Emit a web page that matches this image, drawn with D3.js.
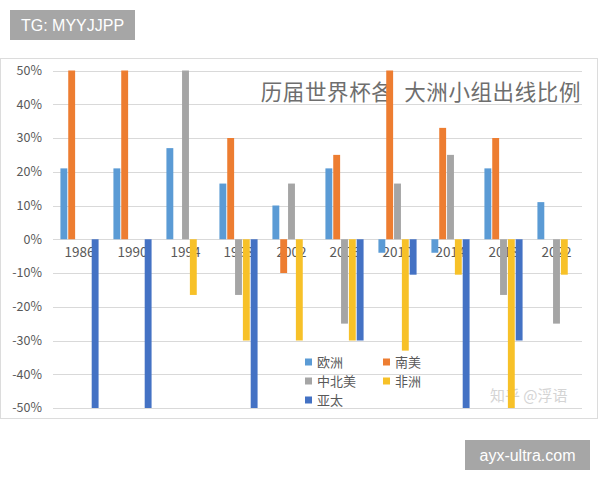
<!DOCTYPE html>
<html>
<head>
<meta charset="utf-8">
<script src="https://cdn.jsdelivr.net/npm/d3@7"></script>
<style>
  body { margin: 0; background: #fff; }
  text { font-family: "Noto Sans CJK SC", "Liberation Sans", sans-serif; }
  text.tag { font-family: "Liberation Sans", Arial, sans-serif; }
</style>
</head>
<body>
<div id="chart"></div>
<script>
// years (categories)
var years = ["1986", "1990", "1994", "1998", "2002", "2006", "2010", "2014", "2018", "2022"];

// series values, in %
var europe       = [21, 21, 27, 16.5, 10, 21, -4, -4, 21, 11];
var southAmerica = [50, 50, 0, 30, -10, 25, 50, 33, 30, 0];
var ncAmerica    = [0, 0, 50, -16.5, 16.5, -25, 16.5, 25, -16.5, -25];
var africa       = [0, 0, -16.5, -30, -30, -30, -33, -10.5, -50, -10.5];
var asia         = [-50, -50, 0, -50, 0, -30, -10.5, -50, -30, 0];

var seriesNames = ["欧洲", "南美", "中北美", "非洲", "亚太"];
var seriesValues = [europe, southAmerica, ncAmerica, africa, asia];
var seriesColors = ["#5B9BD5", "#ED7D31", "#A5A5A5", "#F7C128", "#4472C4"];

var yTicks = [50, 40, 30, 20, 10, 0, -10, -20, -30, -40, -50];

var W = 600, H = 480;

var svg = d3.select("#chart").append("svg")
    .attr("width", W)
    .attr("height", H);

// chart frame
svg.append("rect")
    .attr("x", 0.5).attr("y", 58.5)
    .attr("width", 597).attr("height", 360)
    .attr("fill", "#fff")
    .attr("stroke", "#dcdcdc");

var x0 = d3.scaleBand()
    .domain(years)
    .range([53, 583])
    .paddingInner(0.28)
    .paddingOuter(0.14);

var x1 = d3.scaleBand()
    .domain(seriesNames)
    .range([0, x0.bandwidth()])
    .paddingInner(0.12);

var y = d3.scaleLinear()
    .domain([-50, 50])
    .range([408, 70.5]);

// gridlines
svg.append("g")
    .selectAll("line")
    .data(yTicks)
    .enter()
    .append("line")
    .attr("x1", 53).attr("x2", 582)
    .attr("y1", d => Math.round(y(d)) + 0.5)
    .attr("y2", d => Math.round(y(d)) + 0.5)
    .attr("stroke", "#d9d9d9");

// y axis labels
svg.append("g")
    .selectAll("text")
    .data(yTicks)
    .enter()
    .append("text")
    .attr("x", 42)
    .attr("y", d => y(d))
    .attr("dy", "0.35em")
    .attr("text-anchor", "end")
    .attr("font-size", 12.5)
    .attr("fill", "#595959")
    .text(d => d + "%");

// category labels sit just under the zero line, bars paint over them
svg.append("g")
    .selectAll("text")
    .data(years)
    .enter()
    .append("text")
    .attr("x", d => x0(d) + x0.bandwidth() / 2)
    .attr("y", y(0) + 18)
    .attr("text-anchor", "middle")
    .attr("font-size", 13.5)
    .attr("fill", "#595959")
    .text(d => d);

// title
svg.append("text")
    .attr("x", 581)
    .attr("y", 100)
    .attr("text-anchor", "end")
    .attr("font-size", 21.5)
    .attr("letter-spacing", 0.6)
    .attr("fill", "#6e6e6e")
    .attr("xml:space", "preserve")
    .text("历届世界杯各  大洲小组出线比例");

// watermark
svg.append("text")
    .attr("x", 490)
    .attr("y", 401)
    .attr("font-size", 15)
    .attr("fill", "#d4d4d4")
    .text("知乎 @浮语");

// bars
var groups = svg.append("g")
    .selectAll("g")
    .data(years)
    .enter()
    .append("g")
    .attr("transform", d => "translate(" + x0(d) + ",0)");

groups.selectAll("rect")
    .data((d, i) => seriesNames.map((s, k) => ({ name: s, value: seriesValues[k][i], color: seriesColors[k] })))
    .enter()
    .append("rect")
    .filter(d => d.value !== 0)
    .attr("x", d => x1(d.name))
    .attr("width", x1.bandwidth())
    .attr("y", d => y(Math.max(0, d.value)))
    .attr("height", d => Math.abs(y(d.value) - y(0)))
    .attr("fill", d => d.color);

// legend
var legendPos = [[305, 362], [383, 362], [305, 381], [383, 381], [305, 400]];
var legend = svg.append("g")
    .selectAll("g")
    .data(seriesNames)
    .enter()
    .append("g")
    .attr("transform", (d, i) => "translate(" + legendPos[i][0] + "," + legendPos[i][1] + ")");

legend.append("rect")
    .attr("x", 0).attr("y", -3.5)
    .attr("width", 7).attr("height", 7)
    .attr("fill", (d, i) => seriesColors[i]);

legend.append("text")
    .attr("x", 12)
    .attr("y", 0)
    .attr("dy", "0.36em")
    .attr("font-size", 13)
    .attr("fill", "#595959")
    .text(d => d);

// corner tags
svg.append("rect")
    .attr("x", 10).attr("y", 10)
    .attr("width", 125).attr("height", 30)
    .attr("fill", "#a6a6a6");
svg.append("text")
    .attr("class", "tag")
    .attr("x", 72.5).attr("y", 25)
    .attr("dy", "0.35em")
    .attr("text-anchor", "middle")
    .attr("font-size", 16)
    .attr("fill", "#fff")
    .text("TG: MYYJJPP");

svg.append("rect")
    .attr("x", 465).attr("y", 440)
    .attr("width", 125).attr("height", 30)
    .attr("fill", "#a6a6a6");
svg.append("text")
    .attr("class", "tag")
    .attr("x", 527.5).attr("y", 455)
    .attr("dy", "0.35em")
    .attr("text-anchor", "middle")
    .attr("font-size", 16)
    .attr("fill", "#fff")
    .text("ayx-ultra.com");
</script>
</body>
</html>
